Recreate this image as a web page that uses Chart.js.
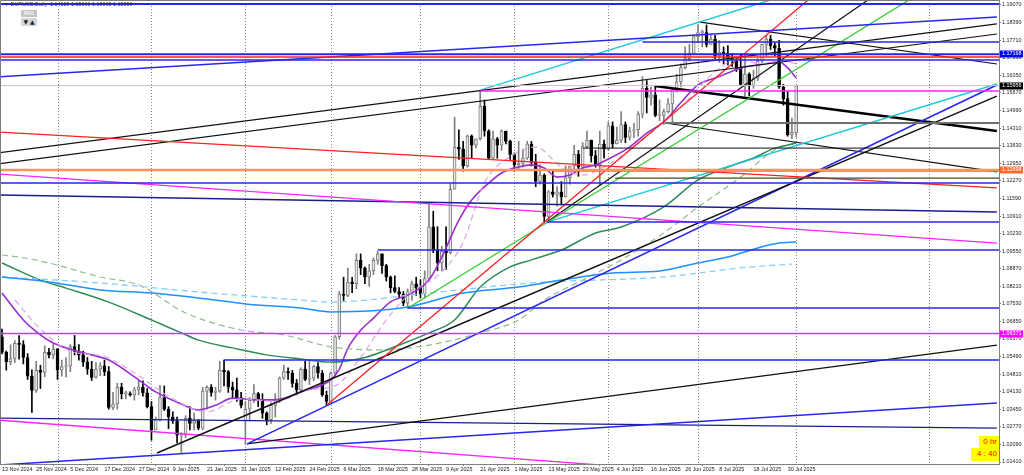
<!DOCTYPE html>
<html>
<head>
<meta charset="utf-8">
<title>EURUSD Daily</title>
<script src="https://cdn.jsdelivr.net/npm/chart.js@4.4.1/dist/chart.umd.min.js"></script>
<style>
  html, body { margin:0; padding:0; background:#fff; }
  #box { position:relative; width:1024px; height:475px; overflow:hidden; }
  canvas { display:block; }
  #title { position:absolute; left:4px; top:1px; font:5.4px "Liberation Sans", Arial, sans-serif; color:#333; white-space:pre; }
  #mn1 { position:absolute; left:21px; top:10px; width:16px; height:7px; background:#c4c4c4; color:#f2f2f2; font:bold 5px "Liberation Sans"; text-align:center; line-height:7px; }
  #arrows { position:absolute; left:21px; top:18px; width:16px; height:8px; background:#d6d6d6; font:6px "DejaVu Sans"; color:#222; text-align:center; line-height:8px; }
  .timer { position:absolute; background:#ffff00; color:#ff0000; font:8px "Liberation Sans"; text-align:right; line-height:12px; padding-right:2px; box-sizing:border-box; }
</style>
</head>
<body>
<div id="box">
  <canvas id="chart" width="1024" height="475"></canvas>
  <div id="title"></div>
  <div id="mn1">MN1</div>
  <div id="arrows">▼ ▲</div>
  <div class="timer" style="left:979px;top:436px;width:20px;height:12px;">0 hr</div>
  <div class="timer" style="left:971px;top:448px;width:28px;height:13px;">4 : 40</div>
</div>
<script>
// time axis labels (one every 8 bars)
const dateLabels = ['13 Nov 2024','25 Nov 2024','5 Dec 2024','17 Dec 2024','27 Dec 2024','9 Jan 2025','21 Jan 2025',
  '31 Jan 2025','12 Feb 2025','24 Feb 2025','6 Mar 2025','18 Mar 2025','28 Mar 2025','9 Apr 2025','21 Apr 2025',
  '1 May 2025','13 May 2025','23 May 2025','4 Jun 2025','16 Jun 2025','26 Jun 2025','8 Jul 2025','18 Jul 2025','30 Jul 2025'];
const dateTickIdx = [0,8,16,24,32,40,48,56,64,72,80,88,96,104,112,120,128,136,144,152,160,168,176,184];
const monthSepIdx = [13,35,57,77,98,120,142,163,186,217];
const priceTicks = [1.19070,1.18390,1.17710,1.17030,1.16350,1.15670,1.14990,1.14310,1.13630,1.12950,1.12270,1.11590,
  1.10910,1.10230,1.09550,1.08870,1.08210,1.07530,1.06850,1.06170,1.05490,1.04810,1.04130,1.03450,1.02770,1.02090,1.01410];

// daily candles, 13 Nov 2024 .. 1 Aug 2025
const opens = [1.0625,1.0565,1.0529,1.0541,1.0600,1.0595,1.0545,1.0473,1.0418,1.0495,
  1.0487,1.0565,1.0555,1.0577,1.0497,1.0510,1.0512,1.0587,1.0568,1.0555,
  1.0528,1.0500,1.0468,1.0500,1.0513,1.0490,1.0352,1.0365,1.0430,1.0405,
  1.0405,1.0400,1.0420,1.0430,1.0408,1.0355,1.0265,1.0305,1.0390,1.0345,
  1.0315,1.0300,1.0245,1.0245,1.0310,1.0290,1.0300,1.0272,1.0415,1.0430,
  1.0410,1.0415,1.0495,1.0490,1.0430,1.0420,1.0390,1.0300,1.0345,1.0380,
  1.0405,1.0380,1.0330,1.0305,1.0360,1.0385,1.0465,1.0490,1.0485,1.0445,
  1.0420,1.0500,1.0460,1.0465,1.0510,1.0485,1.0400,1.0375,1.0485,1.0625,
  1.0790,1.0785,1.0835,1.0830,1.0920,1.0890,1.0855,1.0880,1.0920,1.0945,
  1.0900,1.0855,1.0815,1.0800,1.0790,1.0755,1.0800,1.0830,1.0815,1.0790,
  1.0850,1.1050,1.0960,1.0910,1.0955,1.0950,1.1195,1.1357,1.1350,1.1285,
  1.1400,1.1365,1.1390,1.1515,1.1420,1.1315,1.1390,1.1365,1.1420,1.1380,
  1.1330,1.1290,1.1295,1.1315,1.1370,1.1300,1.1225,1.1250,1.1090,1.1185,
  1.1175,1.1185,1.1165,1.1240,1.1285,1.1330,1.1280,1.1360,1.1385,1.1325,
  1.1290,1.1370,1.1350,1.1440,1.1370,1.1385,1.1445,1.1395,1.1420,1.1425,
  1.1485,1.1585,1.1550,1.1560,1.1480,1.1480,1.1495,1.1525,1.1580,1.1610,
  1.1665,1.1700,1.1720,1.1785,1.1800,1.1800,1.1755,1.1775,1.1710,1.1725,
  1.1720,1.1700,1.1690,1.1665,1.1600,1.1640,1.1595,1.1625,1.1690,1.1755,
  1.1775,1.1750,1.1740,1.1590,1.1545,1.1405,1.14129];
const highs = [1.0655,1.0570,1.0594,1.0610,1.0630,1.0610,1.0560,1.0497,1.0530,1.0515,
  1.0590,1.0580,1.0597,1.0580,1.0535,1.0545,1.0595,1.0630,1.0595,1.0570,
  1.0545,1.0530,1.0525,1.0525,1.0535,1.0510,1.0410,1.0445,1.0445,1.0415,
  1.0412,1.0430,1.0455,1.0455,1.0425,1.0375,1.0315,1.0437,1.0435,1.0355,
  1.0335,1.0315,1.0255,1.0320,1.0355,1.0330,1.0305,1.0430,1.0435,1.0440,
  1.0430,1.0530,1.0535,1.0495,1.0450,1.0465,1.0410,1.0375,1.0390,1.0440,
  1.0410,1.0405,1.0335,1.0370,1.0405,1.0470,1.0515,1.0505,1.0495,1.0460,
  1.0505,1.0530,1.0530,1.0515,1.0525,1.0495,1.0415,1.0490,1.0630,1.0800,
  1.0855,1.0890,1.0855,1.0945,1.0945,1.0895,1.0905,1.0930,1.0955,1.0945,
  1.0905,1.0860,1.0860,1.0815,1.0800,1.0810,1.0840,1.0855,1.0845,1.0880,
  1.1145,1.1110,1.1050,1.0975,1.1050,1.1215,1.1473,1.1425,1.1380,1.1405,
  1.1405,1.1390,1.1574,1.1540,1.1425,1.1420,1.1395,1.1425,1.1420,1.1385,
  1.1335,1.1380,1.1350,1.1380,1.1380,1.1330,1.1290,1.1255,1.1190,1.1265,
  1.1205,1.1225,1.1285,1.1285,1.1365,1.1345,1.1375,1.1420,1.1385,1.1345,
  1.1420,1.1385,1.1455,1.1455,1.1435,1.1495,1.1455,1.1435,1.1450,1.1495,
  1.1630,1.1615,1.1590,1.1595,1.1540,1.1505,1.1545,1.1585,1.1640,1.1680,
  1.1745,1.1755,1.1790,1.1830,1.1810,1.1830,1.1790,1.1790,1.1770,1.1745,
  1.1750,1.1720,1.1700,1.1720,1.1720,1.1645,1.1655,1.1700,1.1755,1.1790,
  1.1790,1.1760,1.1770,1.1600,1.1575,1.1470,1.15966];
const lows = [1.0559,1.0496,1.0517,1.0525,1.0538,1.0520,1.0460,1.0333,1.0410,1.0425,
  1.0470,1.0543,1.0540,1.0460,1.0473,1.0470,1.0490,1.0555,1.0535,1.0510,
  1.0480,1.0456,1.0465,1.0475,1.0475,1.0345,1.0343,1.0345,1.0385,1.0385,
  1.0395,1.0380,1.0400,1.0395,1.0350,1.0225,1.0265,1.0300,1.0340,1.0270,
  1.0290,1.0215,1.0178,1.0235,1.0265,1.0265,1.0266,1.0265,1.0345,1.0395,
  1.0380,1.0410,1.0435,1.0410,1.0385,1.0375,1.0350,1.0210,1.0300,1.0370,
  1.0355,1.0310,1.0285,1.0290,1.0315,1.0370,1.0460,1.0460,1.0430,1.0400,
  1.0410,1.0455,1.0440,1.0455,1.0465,1.0395,1.0360,1.0375,1.0475,1.0615,
  1.0765,1.0780,1.0795,1.0810,1.0865,1.0830,1.0820,1.0865,1.0905,1.0870,
  1.0840,1.0795,1.0795,1.0775,1.0745,1.0735,1.0765,1.0785,1.0775,1.0775,
  1.0845,1.0950,1.0880,1.0880,1.0885,1.0945,1.1195,1.1310,1.1265,1.1280,
  1.1315,1.1355,1.1385,1.1400,1.1310,1.1310,1.1315,1.1345,1.1370,1.1310,
  1.1265,1.1275,1.1280,1.1310,1.1285,1.1205,1.1215,1.1065,1.1075,1.1165,
  1.1130,1.1135,1.1165,1.1215,1.1265,1.1245,1.1275,1.1355,1.1300,1.1280,
  1.1210,1.1315,1.1345,1.1355,1.1370,1.1375,1.1375,1.1385,1.1395,1.1400,
  1.1470,1.1490,1.1520,1.1475,1.1460,1.1445,1.1490,1.1450,1.1570,1.1590,
  1.1660,1.1690,1.1715,1.1760,1.1745,1.1745,1.1755,1.1700,1.1685,1.1680,
  1.1675,1.1670,1.1650,1.1595,1.1555,1.1555,1.1585,1.1615,1.1680,1.1710,
  1.1735,1.1710,1.1585,1.1520,1.1400,1.1390,1.13965];
const closes = [1.0565,1.0529,1.0541,1.0600,1.0595,1.0545,1.0473,1.0418,1.0495,1.0487,
  1.0565,1.0555,1.0577,1.0497,1.0510,1.0512,1.0587,1.0568,1.0555,1.0528,
  1.0500,1.0468,1.0500,1.0513,1.0490,1.0352,1.0365,1.0430,1.0405,1.0405,
  1.0400,1.0420,1.0430,1.0408,1.0355,1.0265,1.0305,1.0390,1.0345,1.0315,
  1.0300,1.0245,1.0245,1.0310,1.0290,1.0300,1.0272,1.0415,1.0430,1.0410,
  1.0415,1.0495,1.0490,1.0430,1.0420,1.0390,1.0360,1.0345,1.0380,1.0405,
  1.0380,1.0330,1.0305,1.0360,1.0385,1.0465,1.0490,1.0485,1.0445,1.0420,
  1.0500,1.0460,1.0465,1.0510,1.0485,1.0400,1.0375,1.0485,1.0625,1.0790,
  1.0785,1.0835,1.0830,1.0920,1.0890,1.0855,1.0880,1.0920,1.0945,1.0900,
  1.0855,1.0815,1.0800,1.0790,1.0755,1.0800,1.0830,1.0815,1.0790,1.0850,
  1.1050,1.0960,1.0910,1.0955,1.0950,1.1195,1.1357,1.1350,1.1285,1.1400,
  1.1365,1.1390,1.1515,1.1420,1.1315,1.1390,1.1365,1.1420,1.1380,1.1330,
  1.1290,1.1295,1.1315,1.1370,1.1300,1.1225,1.1250,1.1090,1.1185,1.1175,
  1.1185,1.1165,1.1240,1.1285,1.1330,1.1280,1.1360,1.1385,1.1325,1.1290,
  1.1370,1.1350,1.1440,1.1370,1.1385,1.1445,1.1395,1.1420,1.1425,1.1485,
  1.1585,1.1550,1.1560,1.1480,1.1480,1.1495,1.1525,1.1580,1.1610,1.1665,
  1.1700,1.1720,1.1785,1.1800,1.1800,1.1755,1.1775,1.1710,1.1725,1.1720,
  1.1700,1.1690,1.1665,1.1600,1.1640,1.1595,1.1625,1.1690,1.1755,1.1775,
  1.1750,1.1740,1.1590,1.1545,1.1405,1.1415,1.15956];

// moving averages at sample bars
const fastMaIdx = [0,5,8,12,19,25,32,36,42,46,50,54,60,64,70,77,79,81,84,87,91,96,100,103,107,110,114,117,121,124,
  127,130,133,136,139,143,147,151,155,159,163,167,170,173,177,180,182,184,186];
const fastMaVal = [1.0794,1.0690,1.0645,1.0601,1.0563,1.0535,1.0458,1.0412,1.0365,1.0342,1.0360,1.0388,1.0381,1.0381,
  1.0412,1.0458,1.0500,1.0580,1.0650,1.0697,1.0760,1.0794,1.0844,1.0933,1.1076,1.1153,1.1219,1.1258,1.1281,1.1289,
  1.1277,1.1242,1.1250,1.1277,1.1289,1.1320,1.1358,1.1412,1.1455,1.1530,1.1598,1.1625,1.1644,1.1664,1.1675,1.1683,
  1.1687,1.1664,1.1625];
const fastMa2Idx = [3,9,16,24,32,40,48,56,64,72,78,84,90,96,102,108,113,120,125,131,136,142,148,154,160,166,172,178,183,186];
const fastMa2Val = [1.0767,1.0655,1.0570,1.0548,1.0475,1.0385,1.0335,1.0385,1.0375,1.0420,1.0435,1.0545,1.0690,1.0800,
  1.0860,1.0990,1.1220,1.1330,1.1358,1.1281,1.1250,1.1290,1.1360,1.1440,1.1530,1.1635,1.1695,1.1680,1.1690,1.1680];
const midMaIdx = [0,9,15,25,35,42,46,54,62,70,77,85,93,100,106,112,119,124,131,139,145,155,163,170,176,181,184,186];
const midMaVal = [1.0910,1.0844,1.0813,1.0759,1.0690,1.0640,1.0612,1.0582,1.0555,1.0539,1.0527,1.0545,1.0593,1.0640,
  1.0690,1.0817,1.0895,1.0922,1.0960,1.1026,1.1049,1.1127,1.1231,1.1281,1.1316,1.1354,1.1366,1.1374];
const midMa2Idx = [0,4,11,23,32,43,56,66,77,88,100,112,121,127,136,145,155,163,173,181,186];
const midMa2Val = [1.0941,1.0933,1.0910,1.0856,1.0825,1.0717,1.0651,1.0632,1.0586,1.0574,1.0593,1.0640,1.0690,1.0767,
  1.0844,1.0922,1.1026,1.1126,1.1242,1.1347,1.1374];
const slowMaIdx = [0,11,23,35,46,57,70,77,95,108,121,131,143,154,163,170,177,182,186];
const slowMaVal = [1.0856,1.0837,1.0806,1.0794,1.0775,1.0752,1.0736,1.0721,1.0740,1.0794,1.0817,1.0844,1.0871,1.0879,
  1.0910,1.0933,1.0968,1.0987,1.0991];
const slowMa2Idx = [0,23,46,70,77,100,124,155,163,173,185];
const slowMa2Val = [1.0856,1.0833,1.0798,1.0767,1.0759,1.0794,1.0833,1.0856,1.0871,1.0891,1.0906];

// horizontal levels: price and first bar
const levelPrice = [1.1911,1.1764,1.17168,1.1706,1.1694,1.15956,1.1575,1.1451,1.1354,1.12698,1.1266,1.1238,1.1219,1.1068,1.0960,1.0736,1.06371,1.0535];
const levelFrom = [-1,150,-1,-1,-1,-1,112,155.3,136,-1,129,143.6,-1,127.6,88,95,-1,52];

// trend lines: [bar, price] -> [bar, price]
const trendFrom = [[-1,1.1629],[-1,1.1416],[-1,1.1254],[-1,1.1173],[-1,1.1335],[-1,1.1293],[76,1.0360],[95,1.0735],
  [127.6,1.1068],[127.6,1.1068],[112,1.1578],[36.3,1.0176],[57.4,1.0211],[57.4,1.0211],[-1,1.0129],[-1,1.0311],
  [-1,1.0303],[163.5,1.1841],[152.9,1.1594],[155.3,1.1451]];
const trendTo = [[233,1.1861],[233,1.1200],[233,1.0987],[233,1.1107],[233,1.1834],[233,1.1795],[200,1.2082],[233,1.2135],
  [233,1.2271],[233,1.1602],[233,1.2198],[233,1.1555],[233,1.1598],[233,1.0593],[233,1.0369],[233,1.0272],
  [160,1.0105],[233,1.1679],[233,1.1420],[233,1.1262]];

const priceTags = [1.17168, 1.15956, 1.12698, 1.06371];

// styles
const BLUE = '#2626f0', NAVY = '#1c1c8a', RED = '#ff2020', MAG = '#ff22ff', BLK = '#111111', CYAN = '#1ec8dc', LIME = '#33cc33';
const levelStyle = [[BLUE,2],[BLUE,1.5],[BLUE,2],[RED,1.5],[BLUE,1.5],['#c4c4c4',1],[MAG,1.5],['#6e6e6e',2],[BLK,1],
  ['#ff9060',2.5],[LIME,1.5],['#444444',1.2],[BLUE,1.5],[BLUE,1.5],[BLUE,1.5],[BLUE,1.5],[MAG,1.5],[BLUE,1.5]];
const trendStyle = [[BLUE,1.5],[RED,1.3],[MAG,1.3],[NAVY,1.3],[BLK,1.2],[BLK,1.2],[RED,1.3],[LIME,1.3],[BLK,1.2],[CYAN,1.5],
  [CYAN,1.5],[BLK,1.5],[BLUE,1.5],[BLK,1.2],[BLUE,1.5],[NAVY,1.3],[MAG,1.3],[BLK,1.2],['#000000',2.5],[BLK,1.2]];
const tagColors = ['#0000ff', '#000000', '#ff6a30', '#ff00ff'];

const last = closes.length - 1;
document.getElementById('title').textContent = '\u25BC EURUSD,Daily  ' +
  [opens[last], highs[last], lows[last], closes[last]].map(v => v.toFixed(5)).join(' ');

const bull = closes.map((c, i) => c >= opens[i]);

function maSet(idx, vals, color, width, dash) {
  return {
    type: 'line', data: idx.map((x, k) => ({x: x, y: vals[k]})),
    borderColor: color, borderWidth: width, borderDash: dash || [],
    pointRadius: 0, cubicInterpolationMode: 'monotone', order: 5
  };
}
function segSet(a, b, style) {
  return {
    type: 'line', data: [{x: a[0], y: a[1]}, {x: b[0], y: b[1]}],
    borderColor: style[0], borderWidth: style[1], pointRadius: 0, order: 1
  };
}

const datasets = [
  {
    label: 'wicks', data: closes.map((c, i) => ({x: i, y: [lows[i], highs[i]]})),
    backgroundColor: bull.map(b => b ? '#808080' : '#000000'),
    barThickness: 1, grouped: false, order: 20
  },
  {
    label: 'bodies', data: closes.map((c, i) => ({x: i, y: [opens[i], c]})),
    backgroundColor: bull.map(b => b ? '#e8e8e8' : '#000000'),
    borderColor: bull.map(b => b ? '#7c7c7c' : '#000000'),
    borderWidth: 1, borderSkipped: false, barThickness: 3, minBarLength: 1, grouped: false, order: 19
  },
  maSet(slowMaIdx, slowMaVal, '#1e90ff', 1.5),
  maSet(slowMa2Idx, slowMa2Val, '#87cefa', 1.3, [6, 4]),
  maSet(midMaIdx, midMaVal, '#2e8b57', 1.5),
  maSet(midMa2Idx, midMa2Val, '#8fbc8f', 1.2, [6, 4]),
  maSet(fastMa2Idx, fastMa2Val, '#d9a3e6', 1.2, [6, 4]),
  maSet(fastMaIdx, fastMaVal, '#9a2fd0', 1.6)
];
levelPrice.forEach((p, k) => datasets.push(segSet([levelFrom[k], p], [240, p], levelStyle[k])));
trendFrom.forEach((a, k) => datasets.push(segSet(a, trendTo[k], trendStyle[k])));

/* MONTH SEPARATORS */
const sepPlugin = {
  id: 'sep',
  beforeDatasetsDraw(chart) {
    const {ctx, chartArea: a, scales: {x}} = chart;
    ctx.save();
    ctx.strokeStyle = '#8a8a8a'; ctx.lineWidth = 1; ctx.setLineDash([1, 2]);
    monthSepIdx.forEach(v => {
      const px = Math.round(x.getPixelForValue(v)) + 0.5;
      ctx.beginPath(); ctx.moveTo(px, a.top); ctx.lineTo(px, a.bottom); ctx.stroke();
    });
    ctx.restore();
  }
};

/* FRAME + PRICE TAGS */
const tagPlugin = {
  id: 'tags',
  afterDraw(chart) {
    const {ctx, chartArea: a, scales: {y}} = chart;
    ctx.save();
    ctx.strokeStyle = '#7a7a7a'; ctx.lineWidth = 1;
    ctx.beginPath(); ctx.moveTo(0.5, a.bottom); ctx.lineTo(0.5, 0.5); ctx.lineTo(a.right, 0.5); ctx.stroke();
    ctx.font = '5.4px "Liberation Sans"'; ctx.textBaseline = 'middle'; ctx.textAlign = 'left';
    priceTags.forEach((v, k) => {
      const py = Math.round(y.getPixelForValue(v));
      ctx.fillStyle = tagColors[k];
      ctx.fillRect(a.right + 1, py - 3.5, 23, 7);
      ctx.fillStyle = '#ffffff';
      ctx.fillText(v.toFixed(5), a.right + 3, py);
    });
    ctx.restore();
  }
};

new Chart(document.getElementById('chart'), {
  type: 'bar',
  data: { datasets: datasets },
  options: {
    responsive: false, animation: false, devicePixelRatio: 1, events: [],
    layout: { padding: 0, autoPadding: false },
    plugins: { legend: { display: false }, tooltip: { enabled: false } },
    scales: {
      x: {
        type: 'linear', min: -0.47, max: 233.5, offset: false,
        grid: { display: true, drawOnChartArea: false, tickLength: 2, color: '#808080' },
        border: { color: '#808080' },
        afterBuildTicks: s => { s.ticks = dateTickIdx.map(v => ({value: v})); },
        afterFit: s => { s.height = 11; s.paddingLeft = 0; s.paddingRight = 0; },
        ticks: {
          autoSkip: false, maxRotation: 0, align: 'start', padding: 0, color: '#222',
          font: { family: 'Liberation Sans', size: 5.4 },
          callback: v => dateLabels[dateTickIdx.indexOf(v)]
        }
      },
      y: {
        type: 'linear', position: 'right', min: 1.01333, max: 1.19263,
        grid: { display: true, drawOnChartArea: false, tickLength: 2, color: '#808080' },
        border: { color: '#808080' },
        afterBuildTicks: s => { s.ticks = priceTicks.map(v => ({value: v})); },
        afterFit: s => { s.width = 25; s.paddingTop = 0; s.paddingBottom = 0; },
        ticks: {
          padding: 1, color: '#222',
          font: { family: 'Liberation Sans', size: 5.4 },
          callback: v => v.toFixed(5)
        }
      }
    }
  },
  plugins: [sepPlugin, tagPlugin]
});
</script>
</body>
</html>
